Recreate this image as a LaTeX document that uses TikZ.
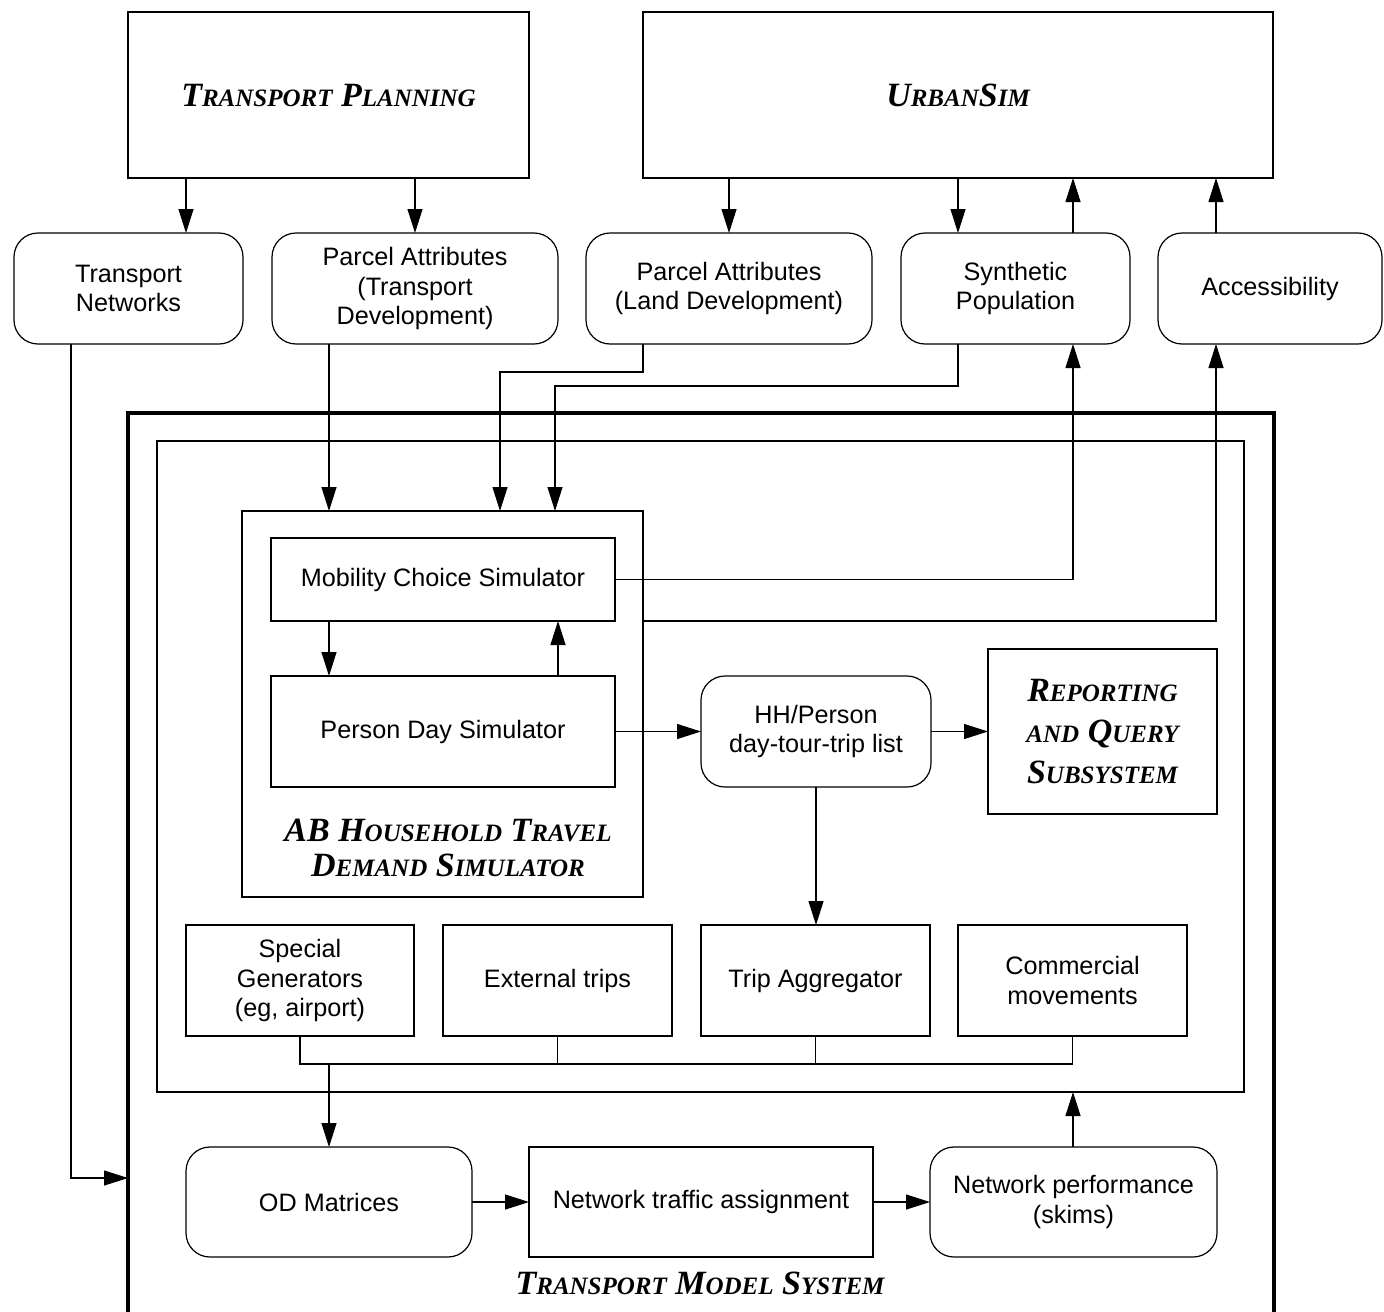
\documentclass[tikz,border=0pt]{standalone}
\usepackage{fontspec}
\setmainfont{Liberation Sans}
\newfontfamily\titlefont{Liberation Serif}
\usetikzlibrary{arrows.meta}
\newcommand\SCap[2]{#1{\fontsize{12.5}{12}\selectfont #2}}
\newcommand\placebox[7]{\node[#1, minimum width={(#5-#3)*0.5pt}, minimum height={(#6-#4)*0.5pt}] (#2) at ({(#3+#5)/2},{(#4+#6)/2}) {#7};}
\begin{document}
\begin{tikzpicture}[x=0.5pt,y=-0.5pt,
  >={Triangle[length=12pt,width=7.5pt]},
  every node/.style={inner sep=0pt, outer sep=0pt, align=center, font=\fontsize{12.6}{14.8}\selectfont},
  sq/.style={draw, line width=0.6pt},
  rnd/.style={draw, line width=0.6pt, rounded corners=12pt},
  ttl/.style={font=\titlefont\bfseries\itshape\fontsize{17}{17.5}\selectfont},
  conn/.style={line width=0.6pt},
  arr/.style={conn, ->}]
\useasboundingbox (0,0) rectangle (1384,1311);

% containers
\placebox{draw, line width=1.6pt}{tms}{128}{413}{1274}{1340}{}
\placebox{draw, line width=0.6pt}{inner}{157}{441}{1244}{1092}{}
\placebox{draw, line width=1pt}{ab}{242}{511}{643}{897}{}

% top
\placebox{sq,ttl}{tp}{128}{12}{529}{178}{\SCap{T}{RANSPORT} \SCap{P}{LANNING}}
\placebox{sq,ttl}{us}{643}{12}{1273}{178}{\SCap{U}{RBAN}\SCap{S}{IM}}

\placebox{rnd}{tn}{14}{233}{243}{344}{Transport\\Networks}
\placebox{rnd}{patd}{272}{233}{558}{344}{Parcel Attributes\\(Transport\\Development)}
\placebox{rnd}{pald}{586}{233}{872}{344}{Parcel Attributes\\(Land Development)}
\placebox{rnd}{sp}{901}{233}{1130}{344}{Synthetic\\Population}
\placebox{rnd}{acc}{1158}{233}{1382}{344}{Accessibility}

% AB simulator
\placebox{sq}{mcs}{271}{538}{615}{621}{Mobility Choice Simulator}
\placebox{sq}{pds}{271}{676}{615}{787}{Person Day Simulator}
\node[ttl] (abtitle) at (448,848) {AB \SCap{H}{OUSEHOLD} \SCap{T}{RAVEL}\\\SCap{D}{EMAND} \SCap{S}{IMULATOR}};

\placebox{rnd}{hh}{701}{676}{931}{787}{HH/Person\\day-tour-trip list}
\placebox{sq,ttl,font=\titlefont\bfseries\itshape\fontsize{17}{20.5}\selectfont}{rqs}{988}{649}{1217}{814}{\SCap{R}{EPORTING}\\{\fontsize{12.5}{12}\selectfont AND} \SCap{Q}{UERY}\\\SCap{S}{UBSYSTEM}}

\placebox{sq}{sg}{186}{925}{414}{1036}{Special\\Generators\\(eg, airport)}
\placebox{sq}{et}{443}{925}{672}{1036}{External trips}
\placebox{sq}{ta}{701}{925}{930}{1036}{Trip Aggregator}
\placebox{sq}{cm}{958}{925}{1187}{1036}{Commercial\\movements}

\placebox{rnd}{od}{186}{1147}{472}{1257}{OD Matrices}
\placebox{sq}{nta}{529}{1147}{873}{1257}{Network traffic assignment}
\placebox{rnd}{np}{930}{1147}{1217}{1257}{Network performance\\(skims)}

\node[ttl, anchor=base] (tmstitle) at (700,1294) {\SCap{T}{RANSPORT} \SCap{M}{ODEL} \SCap{S}{YSTEM}};

% connectors
\draw[arr] (tp.south -| 186,0) -- (tn.north -| 186,0);
\draw[arr] (tp.south -| 415,0) -- (patd.north -| 415,0);
\draw[arr] (us.south -| 729,0) -- (pald.north -| 729,0);
\draw[arr] (us.south -| 958,0) -- (sp.north -| 958,0);
\draw[arr] (sp.north -| 1073,0) -- (us.south -| 1073,0);
\draw[arr] (acc.north -| 1216,0) -- (us.south -| 1216,0);

\draw[arr] (tn.south -| 71,0) |- (tms.west |- 0,1178);
\draw[arr] (patd.south -| 329,0) -- (ab.north -| 329,0);
\draw[arr] (pald.south -| 643,0) -- (643,372) -| (ab.north -| 500,0);
\draw[arr] (sp.south -| 958,0) -- (958,386) -| (ab.north -| 555,0);
\draw[arr] (mcs.east) -| (sp.south -| 1073,0);
\draw[arr] (ab.east |- 0,621) -| (acc.south -| 1216,0);

\draw[arr] (mcs.south -| 329,0) -- (pds.north -| 329,0);
\draw[arr] (pds.north -| 558,0) -- (mcs.south -| 558,0);
\draw[arr] (pds.east) -- (hh.west);
\draw[arr] (hh.east) -- (rqs.west |- hh.east);
\draw[arr] (hh.south) -- (ta.north -| hh.south);

\coordinate (bus) at (329,1064);
\draw[conn] (sg.south) |- (cm.south |- bus) -- (cm.south);
\draw[conn] (et.south) -- (et.south |- bus);
\draw[conn] (ta.south) -- (ta.south |- bus);
\draw[arr] (bus) -- (od.north -| bus);

\draw[arr] (od.east) -- (nta.west);
\draw[arr] (nta.east) -- (np.west);
\draw[arr] (np.north -| 1073,0) -- (inner.south -| 1073,0);
\end{tikzpicture}
\end{document}
